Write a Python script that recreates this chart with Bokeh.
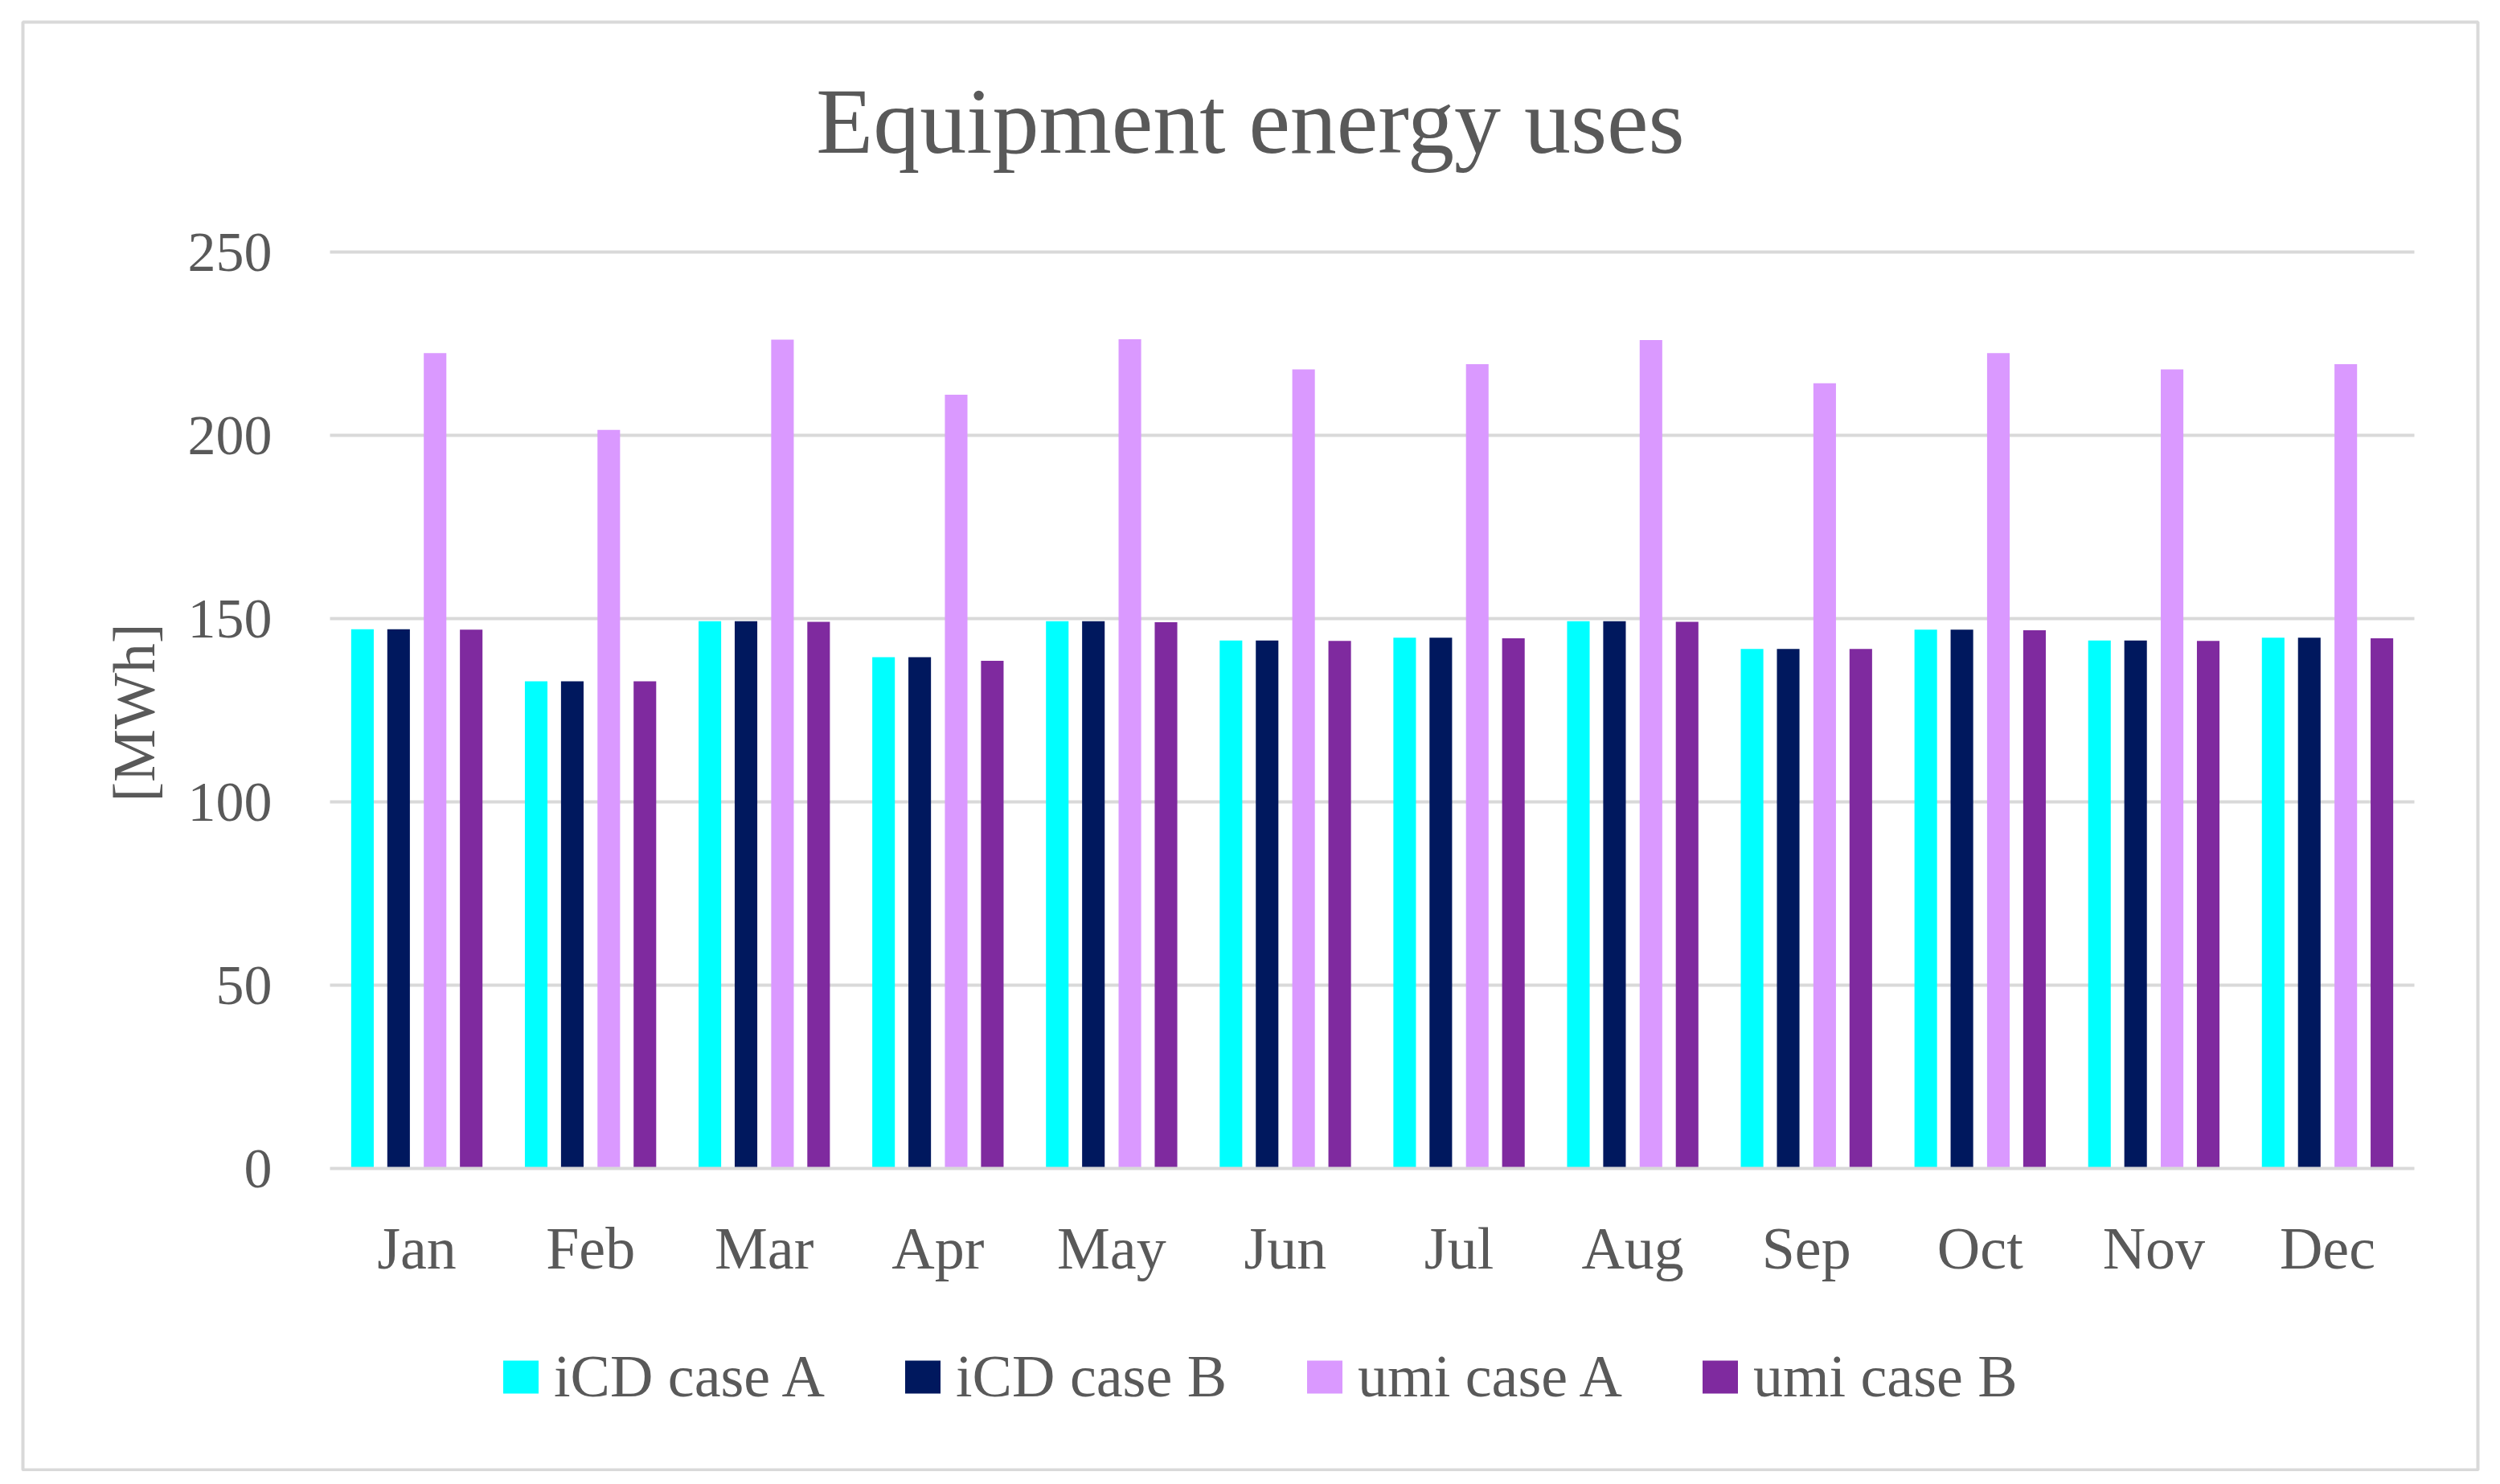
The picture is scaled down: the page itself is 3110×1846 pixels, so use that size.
import math
from bokeh.plotting import figure
from bokeh.models import Range1d, FixedTicker, Legend, LegendItem, ColumnDataSource, Label
from bokeh.transform import dodge
from bokeh.embed import file_html
from bokeh.resources import INLINE

months = ["Jan", "Feb", "Mar", "Apr", "May", "Jun", "Jul", "Aug", "Sep", "Oct", "Nov", "Dec"]
icd_case_a = [147.1, 132.9, 149.3, 139.5, 149.3, 144.0, 144.8, 149.3, 141.7, 147.0, 144.0, 144.8]
icd_case_b = [147.1, 132.9, 149.3, 139.5, 149.3, 144.0, 144.8, 149.3, 141.7, 147.0, 144.0, 144.8]
umi_case_a = [222.4, 201.5, 226.1, 211.1, 226.2, 218.0, 219.4, 226.0, 214.2, 222.4, 218.0, 219.4]
umi_case_b = [147.0, 132.9, 149.1, 138.5, 149.0, 143.9, 144.6, 149.1, 141.7, 146.8, 143.9, 144.6]
series_names = ["iCD case A", "iCD case B", "umi case A", "umi case B"]
series_colors = ["#00FFFF", "#00185E", "#DA99FF", "#7F2A9F"]
y_ticks = [0, 50, 100, 150, 200, 250]
title_text = "Equipment energy uses"
y_label = "[MWh]"

FONT = "Liberation Serif"
TXT = "#595959"
GRID = "#D9D9D9"

# canvas geometry (pixels)
W, H = 3094, 1830
BOX_L, BOX_R, BOX_T, BOX_B = 28, 3082, 27, 1828      # chart-area border
PLOT_L, PLOT_R = 410, 3003                            # plot area
ZERO_PX, TOP_TICK_PX = 1453, 313                      # rows of 0 and 250

n = len(months)
cat = (PLOT_R - PLOT_L) / n
ppu = (ZERO_PX - TOP_TICK_PX) / y_ticks[-1]

def X(px):
    return 0.5 + (px - PLOT_L) / cat

def Y(py):
    return (ZERO_PX - py) / ppu

positions = [i + 1 for i in range(n)]
source = ColumnDataSource(dict(pos=positions, a=icd_case_a, b=icd_case_b, c=umi_case_a, d=umi_case_b))

p = figure(x_range=Range1d(X(BOX_L), X(BOX_R)), y_range=Range1d(Y(BOX_B), Y(BOX_T)),
           width=W, height=H, output_backend="svg", toolbar_location=None, title=None,
           min_border_left=BOX_L, min_border_right=W - BOX_R, min_border_top=BOX_T, min_border_bottom=H - BOX_B)

p.background_fill_color = "white"
p.border_fill_color = "white"
p.outline_line_color = GRID
p.outline_line_width = 4
p.xgrid.visible = False
p.ygrid.visible = False

# horizontal gridlines across the plot area only
p.segment(x0=0.5, x1=n + 0.5, y0=y_ticks[1:], y1=y_ticks[1:], line_color=GRID, line_width=4, level="underlay")

offsets = [-0.313, -0.105, 0.105, 0.313]
cols = ["a", "b", "c", "d"]
renderers = []
for col, off, color in zip(cols, offsets, series_colors):
    r = p.vbar(x=dodge("pos", off), top=col, bottom=0, width=0.13, source=source,
               fill_color=color, line_color=None)
    renderers.append(r)

p.yaxis.fixed_location = 0.5
p.yaxis.ticker = FixedTicker(ticks=y_ticks)
p.yaxis.axis_line_color = None
p.yaxis.major_tick_line_color = None
p.yaxis.minor_tick_line_color = None
p.yaxis.major_label_standoff = 66
p.yaxis.major_label_text_font = FONT
p.yaxis.major_label_text_font_size = "70px"
p.yaxis.major_label_text_color = TXT

p.xaxis.fixed_location = 0
p.xaxis.bounds = (0.5, n + 0.5)
p.xaxis.ticker = FixedTicker(ticks=positions)
p.xaxis.major_label_overrides = {pos: m for pos, m in zip(positions, months)}
p.xaxis.axis_line_color = GRID
p.xaxis.axis_line_width = 4
p.xaxis.major_tick_line_color = None
p.xaxis.minor_tick_line_color = None
p.xaxis.major_label_standoff = 52
p.xaxis.major_label_text_font = FONT
p.xaxis.major_label_text_font_size = "74px"
p.xaxis.major_label_text_color = TXT

p.add_layout(Label(x=X(1555), y=Y(150), text=title_text, text_align="center", text_baseline="alphabetic",
                   text_font=FONT, text_font_size="116px", text_color=TXT))
p.add_layout(Label(x=X(166), y=Y(886), text=y_label, angle=math.pi / 2, text_align="center",
                   text_baseline="middle", text_font=FONT, text_font_size="74px", text_color=TXT))

legend = Legend(items=[LegendItem(label=nm, renderers=[r]) for nm, r in zip(series_names, renderers)],
                orientation="horizontal", location=(592, 73),
                glyph_width=55, glyph_height=51, label_standoff=14, spacing=94,
                padding=0, margin=0, border_line_color=None, background_fill_alpha=0,
                label_text_font=FONT, label_text_font_size="74px", label_text_color=TXT)
p.add_layout(legend, "center")

open("out.html", "w").write(file_html(p, INLINE))
